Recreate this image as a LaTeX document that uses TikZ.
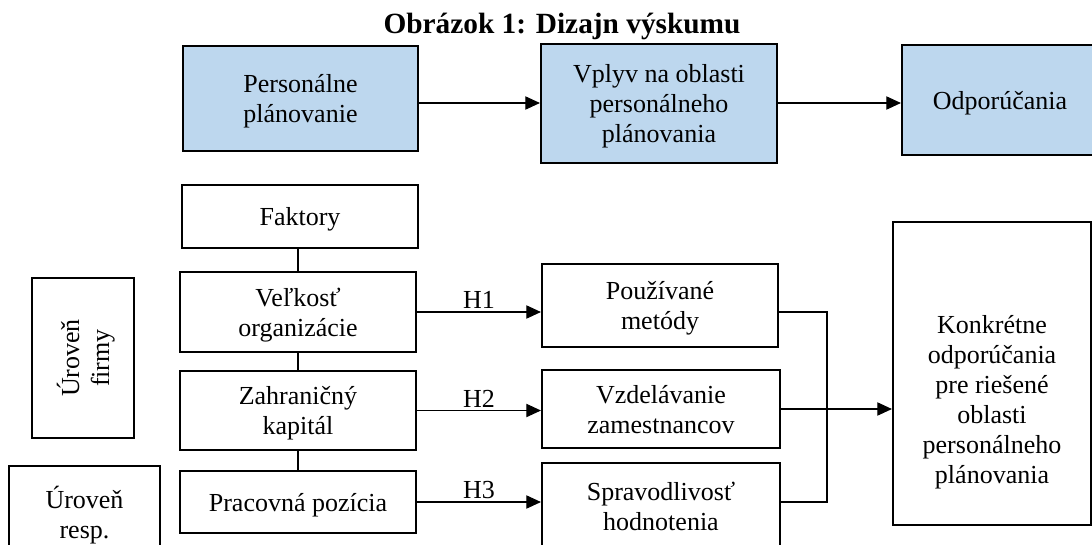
\documentclass[tikz,border=0pt]{standalone}
\usepackage{fontspec}
\setmainfont{Liberation Serif}
\usetikzlibrary{arrows.meta}
\definecolor{boxblue}{HTML}{BDD7EE}
\tikzset{t/.style={align=center, font=\fontsize{19.5}{22.5}\selectfont}}
\tikzset{b/.style={t, draw, line width=1.6pt, inner sep=0pt, text depth=0pt}}
\tikzset{bb/.style={b, fill=boxblue}}
\tikzset{sz/.style 2 args={minimum width=#1*0.75pt, minimum height=#2*0.75pt}}
\tikzset{c/.style={line width=0.8pt}}
\tikzset{a/.style={c, -{Triangle[length=11pt,width=10pt]}}}
\tikzset{h/.style={font=\fontsize{19.5}{22.5}\selectfont, inner sep=2pt}}

\begin{document}
\begin{tikzpicture}[x=0.75pt, y=-0.75pt]
  \useasboundingbox (0,0) rectangle (1092,544);
  \clip (0,0) rectangle (1092,544);
  \node [anchor=base, font=\fontsize{22}{26}\selectfont\bfseries] (title) at (562,33) {Obrázok 1: Dizajn výskumu};
  % horny rad
  \node [bb, sz={235}{105}] (plan) at (300.5,98.5) {Personálne\\plánovanie};
  \node [bb, sz={236}{119}] (vplyv) at (659,103.5) {Vplyv na oblasti\\personálneho\\plánovania};
  \node [bb, sz={196}{110}] (odp) at (1000,100) {Odporúčania};
  \draw [a] (plan.east |- 0,103) -- (vplyv.west |- 0,103);
  \draw [a] (vplyv.east |- 0,103) -- (odp.west |- 0,103);
  % faktory
  \node [b, sz={236}{63}] (fakt) at (300,216.5) {Faktory};
  \node [b, sz={236}{80}] (velk) at (298,312) {Veľkosť\\organizácie};
  \node [b, sz={236}{79}] (zahr) at (298,410.5) {Zahraničný\\kapitál};
  \node [b, sz={236}{62}] (prac) at (298,502) {Pracovná pozícia};
  \draw [c] (fakt.south -| velk.north) -- (velk.north);
  \draw [c] (velk.south) -- (zahr.north);
  \draw [c] (zahr.south) -- (prac.north);
  % urovne
  \node [b, rotate=90, sz={160}{102}] (firma) at (83,358) {Úroveň\\firmy};
  \node [b, sz={151}{92}] (resp) at (84.5,512) {Úroveň\\resp.};
  % oblasti
  \node [b, sz={236}{83}] (metody) at (660,305.5) {Používané\\metódy};
  \node [b, sz={238}{78}] (vzdel) at (661,409) {Vzdelávanie\\zamestnancov};
  \node [b, sz={238}{86}] (sprav) at (661,506) {Spravodlivosť\\hodnotenia};
  \draw [a] (velk.east) -- node [above, h] {H1} (velk.east -| metody.west);
  \draw [a] (zahr.east) -- node [above, h] {H2} (zahr.east -| vzdel.west);
  \draw [a] (prac.east) -- node [above, h] {H3} (prac.east -| sprav.west);
  % odporucania
  \node [b, sz={198}{303}] (konk) at (992,373.5) {};
  \node [t] (konktext) at (992,402) {Konkrétne\\odporúčania\\pre riešené\\oblasti\\personálneho\\plánovania};
  \coordinate (jn) at (827,409);
  \draw [c] (metody.east |- velk.east) -| (jn) |- (sprav.east |- prac.east);
  \draw [a] (vzdel.east) -- (vzdel.east -| konk.west);
\end{tikzpicture}
\end{document}
